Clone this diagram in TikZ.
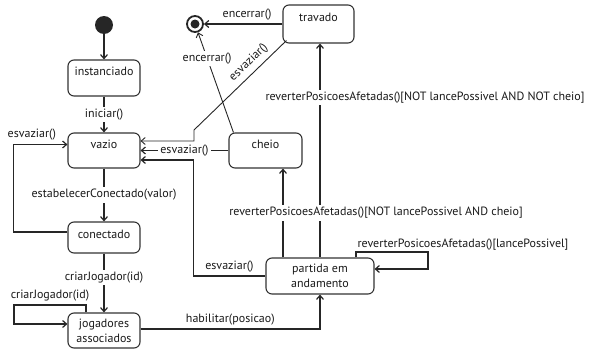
\documentclass[tikz,border=0pt]{standalone}
\usepackage{fontspec}
\setmainfont{PT Sans}
\usetikzlibrary{arrows.meta}
\begin{document}
\begin{tikzpicture}[x=1pt,y=-1pt,
  font=\fontsize{12}{14}\selectfont,
  state/.style={draw=black!80, line width=1.1pt, rounded corners=6pt, minimum width=72pt, inner sep=0pt, text=black!90},
  one/.style={text height=8pt, text depth=12.5pt},
  onec/.style={text height=8pt, text depth=6.5pt},
  two/.style={align=center, font=\fontsize{12}{15}\selectfont},
  arr/.style={draw=black!85, line width=1.2pt, -{Straight Barb[length=4pt,width=7pt]}},
  thinline/.style={line width=0.9pt},
  wl/.style={fill=white, inner sep=2pt, text=black!90},
  lbl/.style={text=black!90}]
\useasboundingbox (0,0) rectangle (595,351);
% states
\node[circle, fill=black!85, minimum size=18pt, inner sep=0pt] (init) at (104,25) {};
\node[state, one, minimum height=36pt] (inst) at (104,78) {instanciado};
\node[state, one, minimum height=35pt] (vazio) at (104,150.5) {vazio};
\node[state, onec, minimum height=31pt] (conectado) at (104,237.5) {conectado};
\node[state, two, minimum height=35pt] (jog) at (104,330.5) {jogadores\\associados};
\node[state, one, minimum height=35pt, minimum width=73pt] (cheio) at (265.5,150.5) {cheio};
\node[state, one, minimum height=38pt, minimum width=71pt] (travado) at (318.5,24) {travado};
\node[state, two, minimum height=36pt, minimum width=108pt] (partida) at (320,276) {partida em\\andamento};
\node[circle, draw=black!85, line width=1.8pt, minimum size=16pt, inner sep=0pt] (final) at (195,24) {};
\node[circle, fill=black!85, minimum size=9pt, inner sep=0pt] (finalin) at (195,24) {};
% transitions
\draw[arr] (init) -- (inst);
\draw[arr] (inst) -- node[wl] {iniciar()} (vazio);
\draw[arr] (vazio) -- node[wl] {estabelecerConectado(valor)} (conectado);
\draw[arr] (conectado) -- node[wl, pos=0.4] {criarJogador(id)} (jog);
\draw[arr] ([yshift=5.5pt]conectado.west) -- ++(-54,0) |- node[lbl, pos=0.67, above] {esvaziar()} ([yshift=6pt]vazio.west);
\draw[arr] ([xshift=-18pt]jog.north) |- node[lbl, pos=0.75, above] {criarJogador(id)} (14,305) |- ([yshift=6.5pt]jog.west);
\draw[arr] ([yshift=1.5pt]jog.east) -| node[lbl, pos=0.25, above] {habilitar(posicao)} (partida.south);
\draw[arr] (partida.west) -- node[lbl, above] {esvaziar()} ++(-72,0) |- ([yshift=-9.5pt]vazio.east);
\draw[arr] (cheio) -- node[wl] {esvaziar()} (vazio);
\draw[arr, thinline] ([shift={(4pt,3pt)}]travado.south west) -- node[lbl, pos=0.33, sloped, above=1pt] {esvaziar()} (194,130) |- ([yshift=9.5pt]vazio.east);
\draw[arr, thinline] ([xshift=5pt]cheio.north west) -- node[wl, pos=0.743] {encerrar()} (final);
\draw[arr] (travado) -- node[lbl, above, pos=0.45] {encerrar()} (final);
\draw[arr] (partida.north) -- node[wl, pos=0.749, xshift=105pt] {reverterPosicoesAfetadas()[NOT lancePossivel AND NOT cheio]} ([xshift=1.5pt]travado.south);
\draw[arr] ([xshift=-37pt]partida.north) -- node[wl, midway, xshift=93pt] {reverterPosicoesAfetadas()[NOT lancePossivel AND cheio]} ([xshift=17.5pt]cheio.south);
\draw[arr] ([xshift=36pt]partida.north) |- node[lbl, pos=0.5, anchor=south west, inner sep=1pt] {reverterPosicoesAfetadas()[lancePossivel]} (428,252) |- ([yshift=7pt]partida.east);
\end{tikzpicture}
\end{document}
